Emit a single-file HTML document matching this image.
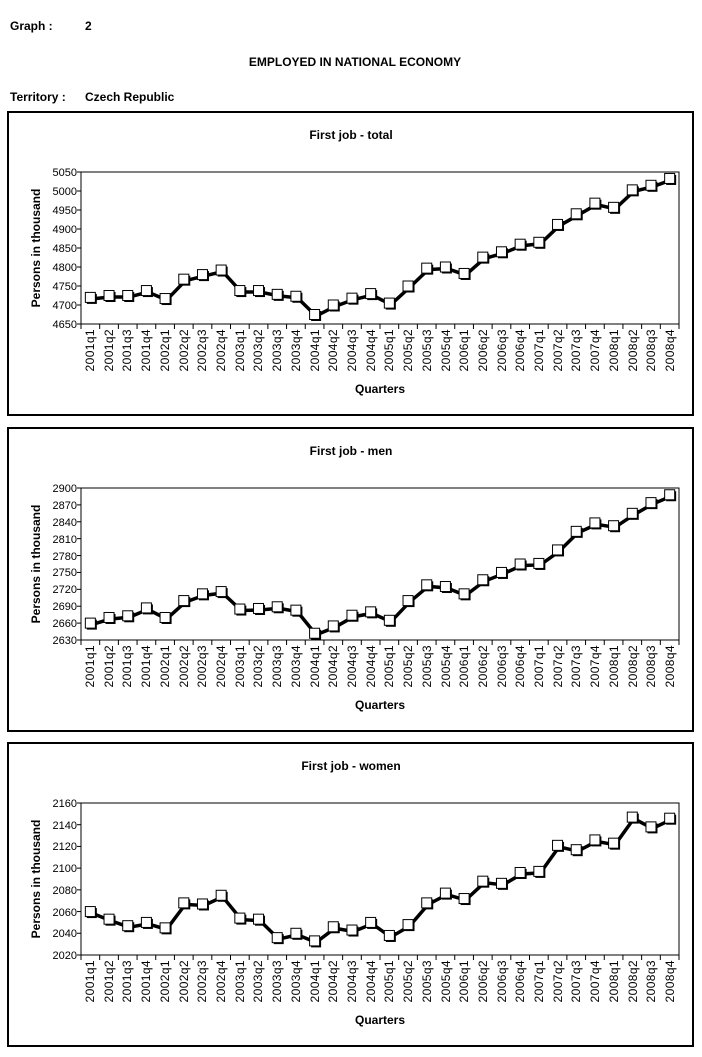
<!DOCTYPE html>
<html><head><meta charset="utf-8"><style>
body{margin:0;background:#fff;width:702px;height:1057px;overflow:hidden}
svg{position:absolute;left:0;top:0}
text{font-family:"Liberation Sans",Arial,sans-serif;fill:#000}
.b{font-weight:bold;font-size:12px}
.t{font-size:11px}
</style></head><body>
<svg id="s" width="702" height="1057" viewBox="0 0 702 1057">
<text class="b" x="10" y="30">Graph :</text>
<text class="b" x="85" y="30">2</text>
<text class="b" x="355" y="66" text-anchor="middle">EMPLOYED IN NATIONAL ECONOMY</text>
<text class="b" x="10" y="101">Territory :</text>
<text class="b" x="85" y="101">Czech Republic</text>

<g id="c0">
<rect x="8" y="112" width="685" height="303" fill="none" stroke="#000" stroke-width="2"/>
<text class="b" x="351" y="139" text-anchor="middle">First job - total</text>
<text class="b" x="40" y="248" text-anchor="middle" transform="rotate(-90 40 248)">Persons in thousand</text>
<text class="b" x="380" y="393" text-anchor="middle">Quarters</text>
<g class="t" text-anchor="end">
<text x="77" y="176">5050</text><text x="77" y="195">5000</text><text x="77" y="214">4950</text><text x="77" y="233">4900</text><text x="77" y="252">4850</text><text x="77" y="271">4800</text><text x="77" y="290">4750</text><text x="77" y="309">4700</text><text x="77" y="328">4650</text>
</g>
</g>
<g id="c1">
<rect x="8" y="428" width="685" height="303" fill="none" stroke="#000" stroke-width="2"/>
<text class="b" x="351" y="455" text-anchor="middle">First job - men</text>
<text class="b" x="40" y="564" text-anchor="middle" transform="rotate(-90 40 564)">Persons in thousand</text>
<text class="b" x="380" y="709" text-anchor="middle">Quarters</text>
<g class="t" text-anchor="end">
<text x="77" y="492">2900</text><text x="77" y="509">2870</text><text x="77" y="526">2840</text><text x="77" y="543">2810</text><text x="77" y="560">2780</text><text x="77" y="576">2750</text><text x="77" y="593">2720</text><text x="77" y="610">2690</text><text x="77" y="627">2660</text><text x="77" y="644">2630</text>
</g>
</g>
<g id="c2">
<rect x="8" y="743" width="685" height="303" fill="none" stroke="#000" stroke-width="2"/>
<text class="b" x="351" y="770" text-anchor="middle">First job - women</text>
<text class="b" x="40" y="879" text-anchor="middle" transform="rotate(-90 40 879)">Persons in thousand</text>
<text class="b" x="380" y="1024" text-anchor="middle">Quarters</text>
<g class="t" text-anchor="end">
<text x="77" y="807">2160</text><text x="77" y="829">2140</text><text x="77" y="850">2120</text><text x="77" y="872">2100</text><text x="77" y="894">2080</text><text x="77" y="916">2060</text><text x="77" y="937">2040</text><text x="77" y="959">2020</text>
</g>
</g>
</svg>
<script>
var data=[
{top:172,steps:8,min:4650,max:5050,v:[4720,4725,4725,4738,4717,4768,4780,4792,4738,4738,4728,4723,4675,4700,4718,4730,4705,4750,4797,4800,4783,4826,4840,4860,4865,4912,4940,4968,4957,5003,5015,5033]},
{top:488,steps:9,min:2630,max:2900,v:[2660,2670,2673,2687,2670,2700,2712,2716,2685,2686,2689,2683,2642,2655,2674,2680,2665,2700,2728,2725,2712,2737,2750,2765,2766,2790,2823,2838,2833,2855,2874,2888]},
{top:803,steps:7,min:2020,max:2160,v:[2060,2053,2047,2050,2045,2068,2067,2075,2054,2053,2036,2040,2033,2046,2043,2050,2038,2048,2068,2077,2072,2088,2086,2096,2097,2121,2117,2126,2123,2147,2138,2146]}];
var ns="http://www.w3.org/2000/svg",s=document.getElementById("s");
function el(n,a){var e=document.createElementNS(ns,n);for(var k in a)e.setAttribute(k,a[k]);s.appendChild(e);return e;}
var L=81,R=679,H=152,w=(R-L)/32;
data.forEach(function(d){
 var b=d.top+H;
 el("rect",{x:L,y:d.top,width:R-L,height:H,fill:"none",stroke:"#000","stroke-width":1});
 for(var i=0;i<=32;i++){var x=L+i*w;el("line",{x1:x,y1:b,x2:x,y2:b+5,stroke:"#000"});}
 for(var k=0;k<=d.steps;k++){var yy=d.top+k*H/d.steps;el("line",{x1:L-4,y1:yy,x2:L,y2:yy,stroke:"#000"});}
 var pts=d.v.map(function(v,i){return [L+w*(i+0.5),b-(v-d.min)/(d.max-d.min)*H];});
 el("polyline",{points:pts.map(function(q){return (q[0]+1.5)+","+(q[1]+1.5)}).join(" "),fill:"none",stroke:"#000","stroke-width":3.5});
 pts.forEach(function(q){el("rect",{x:q[0]-3.5,y:q[1]-3.5,width:10,height:10,fill:"#000"});});
 pts.forEach(function(q){el("rect",{x:q[0]-5,y:q[1]-5,width:10,height:10,fill:"#fff",stroke:"#000","stroke-width":1});});
});
</script>
<svg width="702" height="1057" viewBox="0 0 702 1057" style="pointer-events:none">
<g font-family="Liberation Sans, Arial, sans-serif" font-size="12" text-anchor="end" letter-spacing="0.4">
<g transform="translate(0,0)">
<text transform="translate(94,329) rotate(-90)">2001q1</text><text transform="translate(113,329) rotate(-90)">2001q2</text><text transform="translate(131,329) rotate(-90)">2001q3</text><text transform="translate(150,329) rotate(-90)">2001q4</text><text transform="translate(169,329) rotate(-90)">2002q1</text><text transform="translate(188,329) rotate(-90)">2002q2</text><text transform="translate(206,329) rotate(-90)">2002q3</text><text transform="translate(225,329) rotate(-90)">2002q4</text><text transform="translate(244,329) rotate(-90)">2003q1</text><text transform="translate(262,329) rotate(-90)">2003q2</text><text transform="translate(281,329) rotate(-90)">2003q3</text><text transform="translate(300,329) rotate(-90)">2003q4</text><text transform="translate(319,329) rotate(-90)">2004q1</text><text transform="translate(337,329) rotate(-90)">2004q2</text><text transform="translate(356,329) rotate(-90)">2004q3</text><text transform="translate(375,329) rotate(-90)">2004q4</text><text transform="translate(393,329) rotate(-90)">2005q1</text><text transform="translate(412,329) rotate(-90)">2005q2</text><text transform="translate(431,329) rotate(-90)">2005q3</text><text transform="translate(450,329) rotate(-90)">2005q4</text><text transform="translate(468,329) rotate(-90)">2006q1</text><text transform="translate(487,329) rotate(-90)">2006q2</text><text transform="translate(506,329) rotate(-90)">2006q3</text><text transform="translate(524,329) rotate(-90)">2006q4</text><text transform="translate(543,329) rotate(-90)">2007q1</text><text transform="translate(562,329) rotate(-90)">2007q2</text><text transform="translate(580,329) rotate(-90)">2007q3</text><text transform="translate(599,329) rotate(-90)">2007q4</text><text transform="translate(618,329) rotate(-90)">2008q1</text><text transform="translate(637,329) rotate(-90)">2008q2</text><text transform="translate(655,329) rotate(-90)">2008q3</text><text transform="translate(674,329) rotate(-90)">2008q4</text>
</g>
<g transform="translate(0,316)">
<text transform="translate(94,329) rotate(-90)">2001q1</text><text transform="translate(113,329) rotate(-90)">2001q2</text><text transform="translate(131,329) rotate(-90)">2001q3</text><text transform="translate(150,329) rotate(-90)">2001q4</text><text transform="translate(169,329) rotate(-90)">2002q1</text><text transform="translate(188,329) rotate(-90)">2002q2</text><text transform="translate(206,329) rotate(-90)">2002q3</text><text transform="translate(225,329) rotate(-90)">2002q4</text><text transform="translate(244,329) rotate(-90)">2003q1</text><text transform="translate(262,329) rotate(-90)">2003q2</text><text transform="translate(281,329) rotate(-90)">2003q3</text><text transform="translate(300,329) rotate(-90)">2003q4</text><text transform="translate(319,329) rotate(-90)">2004q1</text><text transform="translate(337,329) rotate(-90)">2004q2</text><text transform="translate(356,329) rotate(-90)">2004q3</text><text transform="translate(375,329) rotate(-90)">2004q4</text><text transform="translate(393,329) rotate(-90)">2005q1</text><text transform="translate(412,329) rotate(-90)">2005q2</text><text transform="translate(431,329) rotate(-90)">2005q3</text><text transform="translate(450,329) rotate(-90)">2005q4</text><text transform="translate(468,329) rotate(-90)">2006q1</text><text transform="translate(487,329) rotate(-90)">2006q2</text><text transform="translate(506,329) rotate(-90)">2006q3</text><text transform="translate(524,329) rotate(-90)">2006q4</text><text transform="translate(543,329) rotate(-90)">2007q1</text><text transform="translate(562,329) rotate(-90)">2007q2</text><text transform="translate(580,329) rotate(-90)">2007q3</text><text transform="translate(599,329) rotate(-90)">2007q4</text><text transform="translate(618,329) rotate(-90)">2008q1</text><text transform="translate(637,329) rotate(-90)">2008q2</text><text transform="translate(655,329) rotate(-90)">2008q3</text><text transform="translate(674,329) rotate(-90)">2008q4</text>
</g>
<g transform="translate(0,631)">
<text transform="translate(94,329) rotate(-90)">2001q1</text><text transform="translate(113,329) rotate(-90)">2001q2</text><text transform="translate(131,329) rotate(-90)">2001q3</text><text transform="translate(150,329) rotate(-90)">2001q4</text><text transform="translate(169,329) rotate(-90)">2002q1</text><text transform="translate(188,329) rotate(-90)">2002q2</text><text transform="translate(206,329) rotate(-90)">2002q3</text><text transform="translate(225,329) rotate(-90)">2002q4</text><text transform="translate(244,329) rotate(-90)">2003q1</text><text transform="translate(262,329) rotate(-90)">2003q2</text><text transform="translate(281,329) rotate(-90)">2003q3</text><text transform="translate(300,329) rotate(-90)">2003q4</text><text transform="translate(319,329) rotate(-90)">2004q1</text><text transform="translate(337,329) rotate(-90)">2004q2</text><text transform="translate(356,329) rotate(-90)">2004q3</text><text transform="translate(375,329) rotate(-90)">2004q4</text><text transform="translate(393,329) rotate(-90)">2005q1</text><text transform="translate(412,329) rotate(-90)">2005q2</text><text transform="translate(431,329) rotate(-90)">2005q3</text><text transform="translate(450,329) rotate(-90)">2005q4</text><text transform="translate(468,329) rotate(-90)">2006q1</text><text transform="translate(487,329) rotate(-90)">2006q2</text><text transform="translate(506,329) rotate(-90)">2006q3</text><text transform="translate(524,329) rotate(-90)">2006q4</text><text transform="translate(543,329) rotate(-90)">2007q1</text><text transform="translate(562,329) rotate(-90)">2007q2</text><text transform="translate(580,329) rotate(-90)">2007q3</text><text transform="translate(599,329) rotate(-90)">2007q4</text><text transform="translate(618,329) rotate(-90)">2008q1</text><text transform="translate(637,329) rotate(-90)">2008q2</text><text transform="translate(655,329) rotate(-90)">2008q3</text><text transform="translate(674,329) rotate(-90)">2008q4</text>
</g>
</g>
</svg>
</body></html>
